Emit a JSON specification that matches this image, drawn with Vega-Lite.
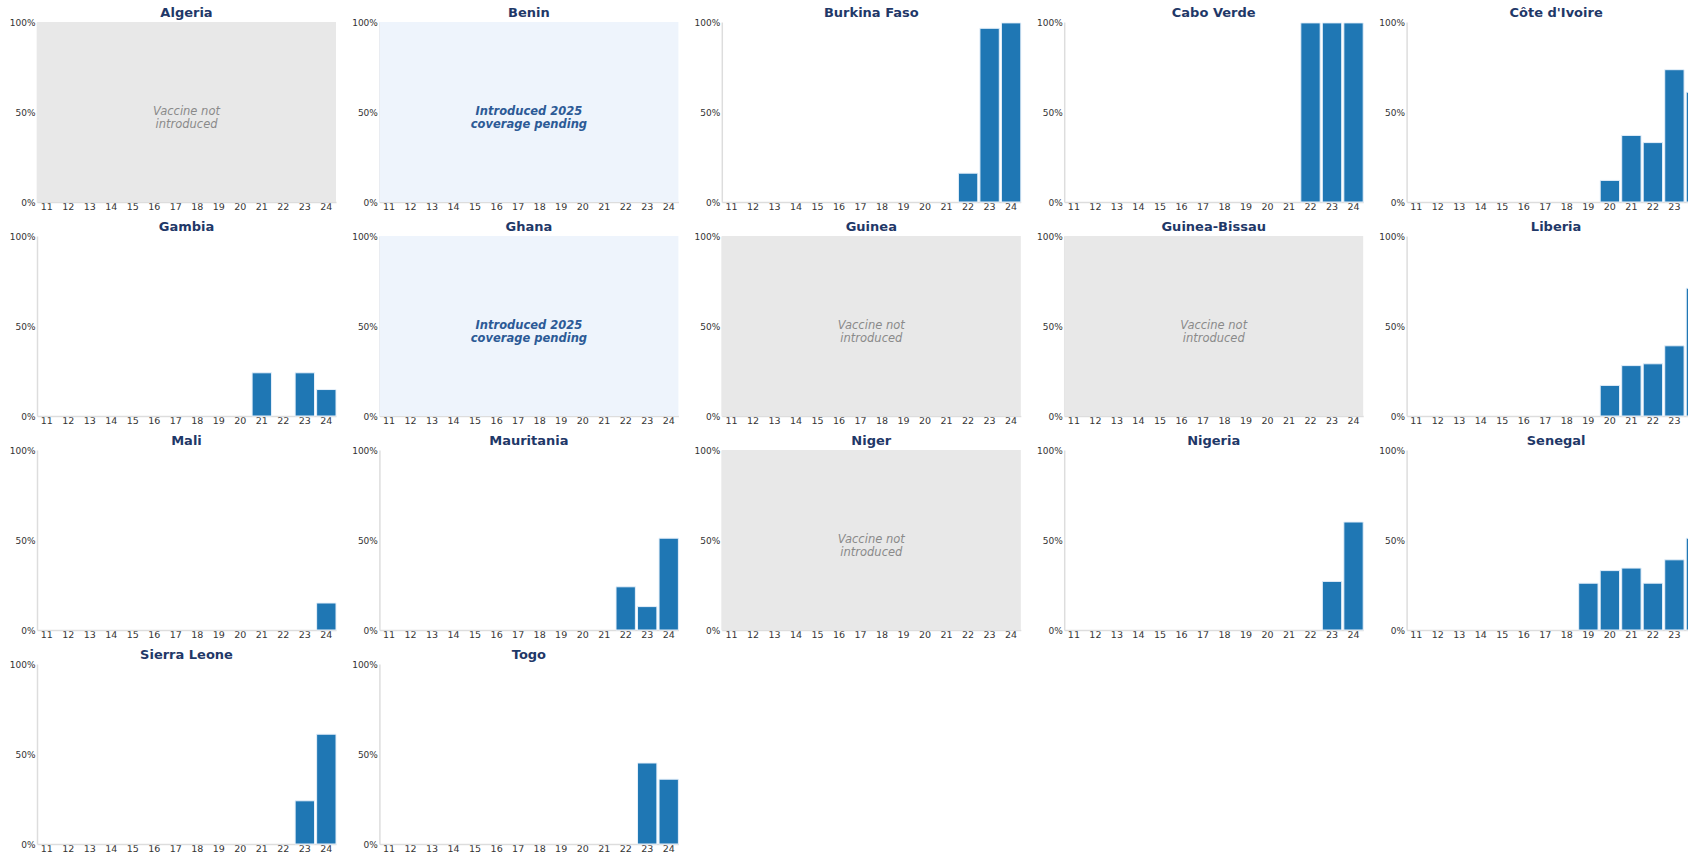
{
  "$schema": "https://vega.github.io/schema/vega-lite/v6.json",
  "padding": {"left": 9, "top": 7, "right": 0, "bottom": 0},
  "background": "white",
  "data": {"values": [
    {"country": "Algeria", "status": "none", "note": "Vaccine not\nintroduced"},
    {"country": "Benin", "status": "pending", "note": "Introduced 2025\ncoverage pending"},
    {"country": "Guinea", "status": "none", "note": "Vaccine not\nintroduced"},
    {"country": "Guinea-Bissau", "status": "none", "note": "Vaccine not\nintroduced"},
    {"country": "Niger", "status": "none", "note": "Vaccine not\nintroduced"},
    {"country": "Ghana", "status": "pending", "note": "Introduced 2025\ncoverage pending"},
    {"country": "Burkina Faso", "year": "22", "coverage": 0.16},
    {"country": "Burkina Faso", "year": "23", "coverage": 0.965},
    {"country": "Burkina Faso", "year": "24", "coverage": 0.995},
    {"country": "Cabo Verde", "year": "22", "coverage": 0.995},
    {"country": "Cabo Verde", "year": "23", "coverage": 0.995},
    {"country": "Cabo Verde", "year": "24", "coverage": 0.995},
    {"country": "Côte d'Ivoire", "year": "20", "coverage": 0.12},
    {"country": "Côte d'Ivoire", "year": "21", "coverage": 0.37},
    {"country": "Côte d'Ivoire", "year": "22", "coverage": 0.33},
    {"country": "Côte d'Ivoire", "year": "23", "coverage": 0.735},
    {"country": "Côte d'Ivoire", "year": "24", "coverage": 0.61},
    {"country": "Gambia", "year": "21", "coverage": 0.24},
    {"country": "Gambia", "year": "23", "coverage": 0.24},
    {"country": "Gambia", "year": "24", "coverage": 0.147},
    {"country": "Liberia", "year": "20", "coverage": 0.17},
    {"country": "Liberia", "year": "21", "coverage": 0.28},
    {"country": "Liberia", "year": "22", "coverage": 0.29},
    {"country": "Liberia", "year": "23", "coverage": 0.39},
    {"country": "Liberia", "year": "24", "coverage": 0.71},
    {"country": "Mali", "year": "24", "coverage": 0.15},
    {"country": "Mauritania", "year": "22", "coverage": 0.24},
    {"country": "Mauritania", "year": "23", "coverage": 0.13},
    {"country": "Mauritania", "year": "24", "coverage": 0.51},
    {"country": "Nigeria", "year": "23", "coverage": 0.27},
    {"country": "Nigeria", "year": "24", "coverage": 0.60},
    {"country": "Senegal", "year": "19", "coverage": 0.26},
    {"country": "Senegal", "year": "20", "coverage": 0.33},
    {"country": "Senegal", "year": "21", "coverage": 0.344},
    {"country": "Senegal", "year": "22", "coverage": 0.26},
    {"country": "Senegal", "year": "23", "coverage": 0.39},
    {"country": "Senegal", "year": "24", "coverage": 0.51},
    {"country": "Sierra Leone", "year": "23", "coverage": 0.24},
    {"country": "Sierra Leone", "year": "24", "coverage": 0.61},
    {"country": "Togo", "year": "23", "coverage": 0.45},
    {"country": "Togo", "year": "24", "coverage": 0.36}
  ]},
  "facet": {
    "field": "country",
    "type": "nominal",
    "sort": ["Algeria", "Benin", "Burkina Faso", "Cabo Verde", "Côte d'Ivoire", "Gambia", "Ghana", "Guinea", "Guinea-Bissau", "Liberia", "Mali", "Mauritania", "Niger", "Nigeria", "Senegal", "Sierra Leone", "Togo"],
    "header": {"title": null, "labelFont": "DejaVu Sans", "labelFontSize": 13, "labelFontWeight": "bold", "labelColor": "#1f3868", "labelPadding": -2}
  },
  "columns": 5,
  "spacing": {"column": 14.4, "row": 10},
  "resolve": {"axis": {"x": "independent", "y": "independent"}},
  "spec": {
    "width": 299,
    "height": 180,
    "layer": [
      {
        "transform": [{"filter": "datum.status != null"}],
        "mark": {"type": "rect"},
        "encoding": {
          "color": {"field": "status", "type": "nominal", "legend": null,
            "scale": {"domain": ["none", "pending"], "range": ["#e8e8e8", "#eef4fc"]}}
        }
      },
      {
        "transform": [{"filter": "datum.coverage != null"}],
        "mark": {"type": "bar", "color": "#1f77b4", "stroke": "#e6f0fa", "strokeWidth": 1},
        "encoding": {
          "x": {"field": "year", "type": "ordinal",
            "scale": {"domain": ["11","12","13","14","15","16","17","18","19","20","21","22","23","24"], "paddingInner": 0.1, "paddingOuter": 0},
            "axis": {"title": null, "labelAngle": 0, "labelFont": "DejaVu Sans", "labelFontSize": 9.5, "labelColor": "#333", "ticks": false, "labelPadding": -1, "domainColor": "#dddddd", "domainWidth": 1.5}},
          "y": {"field": "coverage", "type": "quantitative",
            "scale": {"domain": [0, 1]},
            "axis": {"title": null, "values": [0, 0.5, 1], "format": ".0%", "labelFont": "DejaVu Sans", "labelFontSize": 9, "labelColor": "#333", "ticks": false, "grid": false, "labelPadding": 2, "domainColor": "#dddddd", "domainWidth": 1.5}}
        }
      },
      {
        "transform": [{"filter": "datum.status == 'none'"}],
        "mark": {"type": "text", "font": "DejaVu Sans", "fontSize": 11.5, "fontStyle": "italic", "color": "#8a8a8a", "align": "center", "baseline": "middle", "lineBreak": "\n", "lineHeight": 13},
        "encoding": {
          "y": {"datum": 0.5, "type": "quantitative"},
          "text": {"field": "note"}
        }
      },
      {
        "transform": [{"filter": "datum.status == 'pending'"}],
        "mark": {"type": "text", "font": "DejaVu Sans", "fontSize": 11.5, "fontStyle": "italic", "fontWeight": "bold", "color": "#2c5a96", "align": "center", "baseline": "middle", "lineBreak": "\n", "lineHeight": 13},
        "encoding": {
          "y": {"datum": 0.5, "type": "quantitative"},
          "text": {"field": "note"}
        }
      }
    ]
  },
  "config": {"view": {"stroke": null}}
}
